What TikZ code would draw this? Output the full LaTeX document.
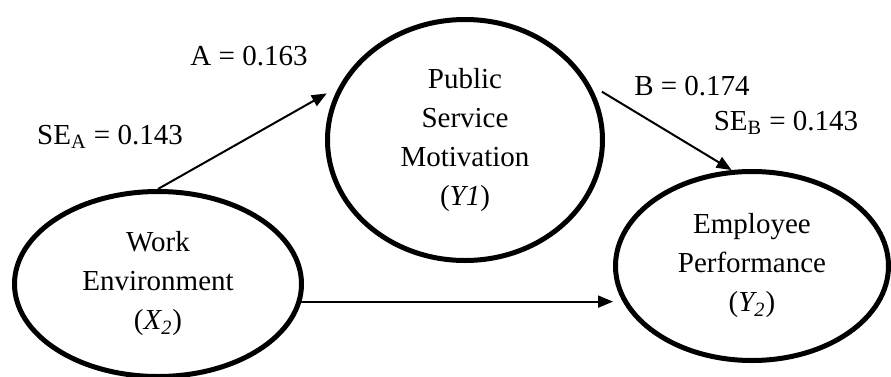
\documentclass[tikz,border=0pt]{standalone}
\usepackage{fontspec}
\setmainfont{Liberation Serif}
\usetikzlibrary{arrows.meta}
\usetikzlibrary{shapes.geometric}
\tikzset{
    latent/.style={draw, ellipse, line width=2.5pt, inner sep=0pt, align=center,
        font=\fontsize{14.5}{19.5}\selectfont},
    path arrow/.style={line width=1pt, -{Triangle[length=7.5pt, width=6pt]}},
    coef/.style={inner sep=0pt, font=\fontsize{14.5}{17}\selectfont},
}

\begin{document}
\begin{tikzpicture}[x=0.5pt, y=-0.5pt]

    \useasboundingbox (0,0) rectangle (891,376);

    % the three constructs
    \node[latent, minimum width=143.5pt, minimum height=92.5pt] (we) at (158,284)
        {Work\\Environment\\(\textit{X\textsubscript{2}})};
    \node[latent, minimum width=137.5pt, minimum height=120.5pt] (psm) at (465,140)
        {Public\\Service\\Motivation\\(\textit{Y1})};
    \node[latent, minimum width=136.5pt, minimum height=94.5pt] (ep) at (752,266)
        {Employee\\Performance\\(\textit{Y\textsubscript{2}})};

    % paths
    \draw[path arrow, shorten >=7pt] (we.north) -- (psm.157);
    \draw[path arrow, shorten <=7pt] (psm.24) -- (ep.102);
    \draw[path arrow] (we.-7) -- (we.-7 -| ep.west);

    % coefficients
    \node[coef] (coefA) at (249,56) {A = 0.163};
    \node[coef] (seA) at (110,137) {SE\textsubscript{A} = 0.143};
    \node[coef] (coefB) at (692,86) {B = 0.174};
    \node[coef] (seB) at (786,123) {SE\textsubscript{B} = 0.143};

\end{tikzpicture}
\end{document}
